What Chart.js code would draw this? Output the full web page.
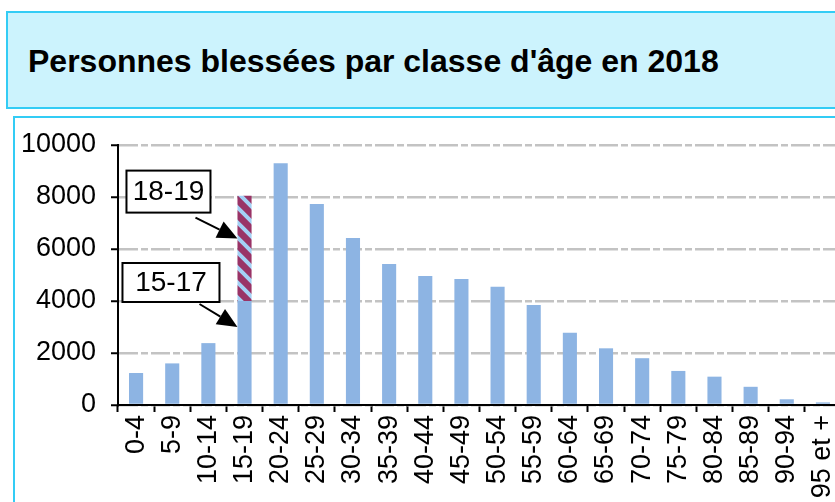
<!DOCTYPE html>
<html lang="fr">
<head>
<meta charset="utf-8">
<title>Personnes blessées par classe d'âge en 2018</title>
<script src="https://cdn.jsdelivr.net/npm/chart.js@4/dist/chart.umd.min.js"></script>
<style>
  html, body {
    margin: 0;
    padding: 0;
    overflow: hidden;
    background: #fff;
    font-family: "Liberation Sans", Arial, sans-serif;
  }
  .page {
    position: relative;
    width: 100vw;
    height: 100vh;
    overflow: hidden;
  }
  .title-box {
    position: absolute;
    left: 6px;
    top: 11px;
    width: 1000px;
    height: 94px;
    background: #ccf3fd;
    border: 2px solid #33ccf5;
    border-right: none;
  }
  .title-box h1 {
    position: absolute;
    left: 20px;
    top: 30px;
    margin: 0;
    font-size: 32px;
    line-height: 36px;
    font-weight: bold;
    color: #000;
    white-space: nowrap;
  }
  .chart-box {
    position: absolute;
    left: 13px;
    top: 116px;
    width: 1000px;
    height: 600px;
    background: #fff;
    border: 2px solid #33ccf5;
    border-right: none;
    border-bottom: none;
  }
  #chart {
    position: absolute;
    left: 0;
    top: 0;
  }
</style>
</head>
<body>
<div class="page">
  <div class="title-box"><h1>Personnes blessées par classe d'âge en 2018</h1></div>
  <div class="chart-box"></div>
  <canvas id="chart" width="860" height="502"></canvas>
</div>
<script>
// age classes
const ageClasses = ["0-4", "5-9", "10-14", "15-19", "20-24", "25-29", "30-34", "35-39", "40-44", "45-49",
  "50-54", "55-59", "60-64", "65-69", "70-74", "75-79", "80-84", "85-89", "90-94", "95 et +"];

// injured people (15-19 holds only the 15-17 part here)
const injured = [1230, 1600, 2380, 4000, 9300, 7730, 6420, 5420, 4960, 4850,
  4550, 3850, 2780, 2180, 1800, 1310, 1090, 700, 220, 100];

// 18-19 part, stacked on top of the 15-19 bar
const injured1819 = [null, null, null, 4050, null, null, null, null, null, null,
  null, null, null, null, null, null, null, null, null, null];

const yTicks = [0, 2000, 4000, 6000, 8000, 10000];

const barBlue = "#8db4e3";
const maroon = "#993366";

function makeStripes() {
  const size = 15;
  const c = document.createElement("canvas");
  c.width = size;
  c.height = size;
  const ctx = c.getContext("2d");
  ctx.fillStyle = maroon;
  ctx.fillRect(0, 0, size, size);
  ctx.strokeStyle = "#a3d0f5";
  ctx.lineWidth = 4;
  ctx.beginPath();
  // lines y = x + k, k in {-size, 0, size}
  [-size, 0, size].forEach((k) => {
    ctx.moveTo(-2, -2 + k);
    ctx.lineTo(size + 2, size + 2 + k);
  });
  ctx.stroke();
  return ctx.createPattern(c, "repeat");
}

function drawArrow(ctx, x1, y1, x2, y2) {
  const angle = Math.atan2(y2 - y1, x2 - x1);
  const head = 20;
  const half = 9;
  const bx = x2 - head * Math.cos(angle);
  const by = y2 - head * Math.sin(angle);
  ctx.beginPath();
  ctx.moveTo(x1, y1);
  ctx.lineTo(bx, by);
  ctx.stroke();
  ctx.beginPath();
  ctx.moveTo(x2, y2);
  ctx.lineTo(bx + half * Math.sin(angle), by - half * Math.cos(angle));
  ctx.lineTo(bx - half * Math.sin(angle), by + half * Math.cos(angle));
  ctx.closePath();
  ctx.fill();
}

// callouts pointing at the split 15-19 bar
const callouts = [
  { text: "18-19", value: 6400, box: [-111, -68, 84, 42], from: [-42, -21] },
  { text: "15-17", value: 3000, box: [-115, -64, 97, 39], from: [-38, -23] }
];

const calloutPlugin = {
  id: "callouts",
  afterDraw(chart) {
    const ctx = chart.ctx;
    const bar = chart.getDatasetMeta(1).data[3];
    const yScale = chart.scales.y;
    const tipX = bar.x - bar.width / 2;
    ctx.save();
    callouts.forEach((c) => {
      const tipY = yScale.getPixelForValue(c.value);
      const [dx, dy, w, h] = c.box;
      ctx.fillStyle = "#fff";
      ctx.fillRect(tipX + dx, tipY + dy, w, h);
      ctx.strokeStyle = "#000";
      ctx.lineWidth = 2;
      ctx.strokeRect(tipX + dx, tipY + dy, w, h);
      ctx.fillStyle = "#000";
      ctx.font = '28px "Liberation Sans", Arial, sans-serif';
      ctx.textAlign = "center";
      ctx.textBaseline = "middle";
      ctx.fillText(c.text, tipX + dx + w / 2, tipY + dy + h / 2 + 1);
      drawArrow(ctx, tipX + c.from[0], tipY + c.from[1], tipX, tipY);
    });
    ctx.restore();
  }
};

window.addEventListener("DOMContentLoaded", () => {
  const canvas = document.getElementById("chart");
  const family = '"Liberation Sans", Arial, sans-serif';

  new Chart(canvas, {
    type: "bar",
    data: {
      labels: ageClasses,
      datasets: [
        {
          label: "15-17",
          data: injured,
          backgroundColor: barBlue,
          borderWidth: 0
        },
        {
          label: "18-19",
          data: injured1819,
          backgroundColor: makeStripes(),
          borderWidth: 0
        }
      ]
    },
    options: {
      responsive: false,
      animation: false,
      layout: {
        padding: { top: 145, right: 19, left: 0, bottom: 0 }
      },
      datasets: {
        bar: {
          categoryPercentage: 1,
          barPercentage: 0.39
        }
      },
      plugins: {
        legend: { display: false },
        tooltip: { enabled: false }
      },
      scales: {
        x: {
          stacked: true,
          offset: true,
          afterFit(scale) {
            scale.height = 97;
          },
          grid: {
            offset: true,
            drawOnChartArea: false,
            tickLength: 7,
            tickColor: "#000",
            tickWidth: 2
          },
          border: { color: "#000", width: 2 },
          ticks: {
            autoSkip: false,
            minRotation: 90,
            maxRotation: 90,
            padding: 3,
            color: "#000",
            font: { family: family, size: 27 }
          }
        },
        y: {
          stacked: true,
          min: 0,
          max: 10000,
          afterFit(scale) {
            scale.width = 118;
          },
          afterBuildTicks(scale) {
            scale.ticks = yTicks.map((v) => ({ value: v }));
          },
          grid: {
            color: "#c3c3c3",
            lineWidth: 2.5,
            tickLength: 7,
            tickColor: "#000",
            tickWidth: 2,
            tickBorderDash: []
          },
          border: { color: "#000", width: 2, dash: [19, 3, 7, 3] },
          ticks: {
            padding: 15,
            color: "#000",
            font: { family: family, size: 27 },
            callback(value) {
              return String(value);
            }
          }
        }
      }
    },
    plugins: [calloutPlugin]
  });
});
</script>
</body>
</html>
